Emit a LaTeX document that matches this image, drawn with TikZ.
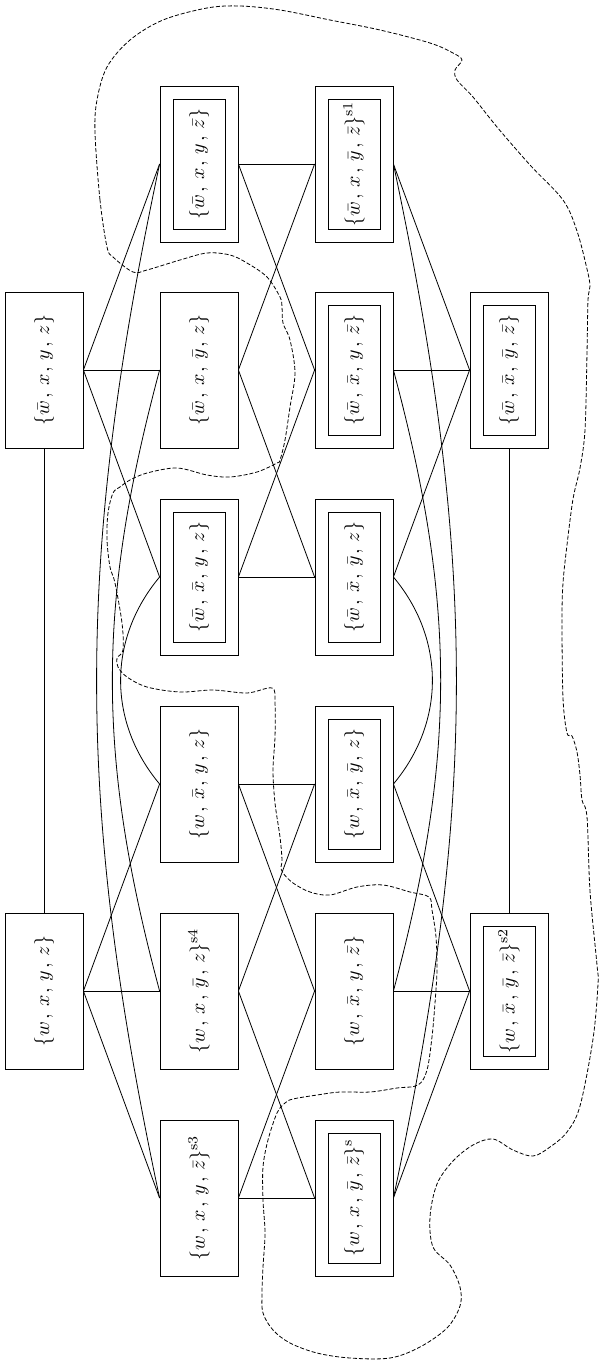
\documentclass[tikz,border=0pt]{standalone}
\usepackage{graphicx}
\newcommand\lab[1]{\rotatebox{90}{$#1$}}
\newcommand\mysep{\mskip2mu,\,}
\begin{document}
\begin{tikzpicture}[x=0.5pt,y=-0.5pt,
  box/.style={draw, rectangle, minimum width=39pt, minimum height=78pt, inner sep=0pt, font=\normalsize},
  dbox/.style={box, path picture={\draw ([shift={(6.5pt,6.5pt)}]path picture bounding box.south west) rectangle ([shift={(-6.5pt,-6.5pt)}]path picture bounding box.north east);}},
  link/.style={line width=0.4pt},
  blob/.style={dash pattern=on 2pt off 1pt, line width=0.4pt}]
\useasboundingbox (0,0) rectangle (599,1360);
% column A
\node[box]  (Wxyz) at (44,370)  {\lab{\{\bar w\mysep x\mysep y\mysep z\}}};
\node[box]  (wxyz) at (44,991)  {\lab{\{w\mysep x\mysep y\mysep z\}}};
% column B
\node[dbox] (WxyZ) at (199,164) {\lab{\{\bar w\mysep x\mysep y\mysep \bar z\}}};
\node[box]  (WxYz) at (199,370) {\lab{\{\bar w\mysep x\mysep \bar y\mysep z\}}};
\node[dbox] (WXyz) at (199,577) {\lab{\{\bar w\mysep \bar x\mysep y\mysep z\}}};
\node[box]  (wXyz) at (199,784) {\lab{\{w\mysep \bar x\mysep y\mysep z\}}};
\node[box]  (wxYz) at (199,991) {\lab{\{w\mysep x\mysep \bar y\mysep z\}^{\mathrm{s4}}}};
\node[box]  (wxyZ) at (199,1198) {\lab{\{w\mysep x\mysep y\mysep \bar z\}^{\mathrm{s3}}}};
% column C
\node[dbox] (WxYZ) at (354,164) {\lab{\{\bar w\mysep x\mysep \bar y\mysep \bar z\}^{\mathrm{s1}}}};
\node[dbox] (WXyZ) at (354,370) {\lab{\{\bar w\mysep \bar x\mysep y\mysep \bar z\}}};
\node[dbox] (WXYz) at (354,577) {\lab{\{\bar w\mysep \bar x\mysep \bar y\mysep z\}}};
\node[dbox] (wXYz) at (354,784) {\lab{\{w\mysep \bar x\mysep \bar y\mysep z\}}};
\node[box]  (wXyZ) at (354,991) {\lab{\{w\mysep \bar x\mysep y\mysep \bar z\}}};
\node[dbox] (wxYZ) at (354,1198) {\lab{\{w\mysep x\mysep \bar y\mysep \bar z\}^{\mathrm{s}}}};
% column D
\node[dbox] (WXYZ) at (509,370) {\lab{\{\bar w\mysep \bar x\mysep \bar y\mysep \bar z\}}};
\node[dbox] (wXYZ) at (509,991) {\lab{\{w\mysep \bar x\mysep \bar y\mysep \bar z\}^{\mathrm{s2}}}};
% straight edges
\draw[link] (Wxyz.south) -- (wxyz.north);
\draw[link] (WXYZ.south) -- (wXYZ.north);
\foreach \a/\b in {wxyz/wXyz, wxyz/wxYz, wxyz/wxyZ,
                   Wxyz/WxyZ, Wxyz/WxYz, Wxyz/WXyz,
                   WxyZ/WxYZ, WxyZ/WXyZ, WxYz/WxYZ, WxYz/WXYz, WXyz/WXyZ, WXyz/WXYz,
                   wXyz/wXYz, wXyz/wXyZ, wxYz/wXYz, wxYz/wxYZ, wxyZ/wXyZ, wxyZ/wxYZ,
                   WxYZ/WXYZ, WXyZ/WXYZ, WXYz/WXYZ,
                   wXYz/wXYZ, wXyZ/wXYZ, wxYZ/wXYZ}
  \draw[link] (\a.east) -- (\b.west);
% curved edges, left
\draw[link] (WxyZ.west) .. controls +(-84,396) and +(-84,-396) .. (wxyZ.west);
\draw[link] (WxYz.west) .. controls +(-63,235) and +(-63,-235) .. (wxYz.west);
\draw[link] (WXyz.west) .. controls +(-52,62) and +(-52,-62) .. (wXyz.west);
% curved edges, right
\draw[link] (WxYZ.east) .. controls +(84,396) and +(84,-396) .. (wxYZ.east);
\draw[link] (WXyZ.east) .. controls +(63,235) and +(63,-235) .. (wXyZ.east);
\draw[link] (WXYz.east) .. controls +(52,62) and +(52,-62) .. (wXYz.east);
% dashed region
\draw[blob] plot[smooth cycle, tension=0.55] coordinates {
 (107,247) (100,200) (95,133) (97,100) (107,67) (130,40) (163,20) (207,8) (240,6) (280,10)
 (330,20) (380,30) (430,43) (453,53) (462,60) (455,70) (457,80) (473,97) (497,127) (530,165)
 (563,200) (577,231) (587,269) (590,286) (588,300) (587,353) (585,430) (580,468) (573,499)
 (567,545) (563,583) (562,621) (563,698) (567,733) (572,736) (577,752) (580,775) (582,800)
 (587,817) (590,891) (597,965) (598,984) (593,1039) (580,1106) (567,1132) (550,1147)
 (533,1156) (513,1150) (493,1139) (473,1145) (453,1161) (437,1184) (430,1217) (433,1247)
 (450,1265) (460,1287) (460,1306) (447,1328) (420,1347) (390,1358) (350,1358) (317,1353)
 (290,1343) (273,1330) (263,1313) (262,1293) (263,1267) (265,1233) (263,1200) (263,1167)
 (268,1140) (277,1113) (285,1103) (293,1099) (317,1095) (340,1092) (370,1092) (397,1088)
 (418,1085) (427,1070) (432,1037) (435,1003) (437,970) (436,937) (432,910) (429,897)
 (410,892) (383,885) (357,887) (330,895) (310,892) (293,883) (283,873) (281,867) (282,860)
 (280,837) (275,803) (273,770) (275,737) (275,703) (272,688) (247,693) (213,690) (180,692)
 (147,687) (127,677) (118,667) (117,658) (123,650) (122,623) (115,583) (110,567) (107,540)
 (108,513) (113,493) (120,487) (130,480) (147,473) (177,468) (207,475) (230,477) (257,472)
 (277,463) (280,460) (285,440) (290,407) (295,373) (290,340) (283,323) (282,307) (280,297)
 (267,277) (247,263) (230,255) (207,253) (180,260) (147,270) (133,272) (113,257)};
\end{tikzpicture}
\end{document}
